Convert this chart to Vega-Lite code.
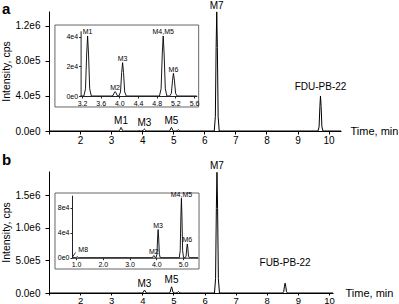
{
  "$schema": "https://vega.github.io/schema/vega-lite/v6.json",
  "padding": {"left": 1, "top": 0, "right": 0, "bottom": 0},
  "background": "white",
  "datasets": {
    "mainA": [
      {"t": 1.0, "v": 0}, {"t": 3.17, "v": 0},
      {"t": 3.24, "v": 0}, {"t": 3.275, "v": 4860}, {"t": 3.30, "v": 28350}, {"t": 3.32, "v": 40500}, {"t": 3.34, "v": 28350}, {"t": 3.365, "v": 4860}, {"t": 3.40, "v": 0},
      {"t": 3.83, "v": 0}, {"t": 3.865, "v": 360}, {"t": 3.89, "v": 2100}, {"t": 3.91, "v": 3000}, {"t": 3.93, "v": 2100}, {"t": 3.955, "v": 360}, {"t": 3.99, "v": 0},
      {"t": 4.025, "v": 2700}, {"t": 4.05, "v": 15750}, {"t": 4.07, "v": 22500}, {"t": 4.09, "v": 15750}, {"t": 4.115, "v": 2700}, {"t": 4.15, "v": 0},
      {"t": 4.86, "v": 0}, {"t": 4.895, "v": 4860}, {"t": 4.92, "v": 28350}, {"t": 4.94, "v": 40500}, {"t": 4.96, "v": 28350}, {"t": 4.985, "v": 4860}, {"t": 5.02, "v": 0},
      {"t": 5.08, "v": 0}, {"t": 5.115, "v": 1836}, {"t": 5.14, "v": 10710}, {"t": 5.16, "v": 15300}, {"t": 5.18, "v": 10710}, {"t": 5.205, "v": 1836}, {"t": 5.24, "v": 0},
      {"t": 5.66, "v": 0},
      {"t": 6.32, "v": 0}, {"t": 6.355, "v": 163200}, {"t": 6.38, "v": 952000}, {"t": 6.40, "v": 1360000}, {"t": 6.42, "v": 952000}, {"t": 6.445, "v": 163200}, {"t": 6.48, "v": 0},
      {"t": 9.66, "v": 0}, {"t": 9.695, "v": 48000}, {"t": 9.72, "v": 280000}, {"t": 9.74, "v": 400000}, {"t": 9.76, "v": 280000}, {"t": 9.785, "v": 48000}, {"t": 9.82, "v": 0},
      {"t": 10.4, "v": 0}
    ],
    "mainB": [
      {"t": 0.85, "v": 0},
      {"t": 0.97, "v": 0}, {"t": 1.005, "v": 180}, {"t": 1.03, "v": 1050}, {"t": 1.05, "v": 1500}, {"t": 1.07, "v": 1050}, {"t": 1.095, "v": 180}, {"t": 1.13, "v": 0},
      {"t": 3.83, "v": 0}, {"t": 3.865, "v": 420}, {"t": 3.89, "v": 2450}, {"t": 3.91, "v": 3500}, {"t": 3.93, "v": 2450}, {"t": 3.955, "v": 420}, {"t": 3.99, "v": 0},
      {"t": 4.025, "v": 5400}, {"t": 4.05, "v": 31500}, {"t": 4.07, "v": 45000}, {"t": 4.09, "v": 31500}, {"t": 4.115, "v": 5400}, {"t": 4.15, "v": 0},
      {"t": 4.86, "v": 0}, {"t": 4.895, "v": 11400}, {"t": 4.92, "v": 66500}, {"t": 4.94, "v": 95000}, {"t": 4.96, "v": 66500}, {"t": 4.985, "v": 11400}, {"t": 5.02, "v": 0},
      {"t": 5.08, "v": 0}, {"t": 5.115, "v": 2640}, {"t": 5.14, "v": 15400}, {"t": 5.16, "v": 22000}, {"t": 5.18, "v": 15400}, {"t": 5.205, "v": 2640}, {"t": 5.24, "v": 0},
      {"t": 5.56, "v": 0},
      {"t": 6.32, "v": 0}, {"t": 6.355, "v": 222000}, {"t": 6.38, "v": 1295000}, {"t": 6.40, "v": 1850000}, {"t": 6.42, "v": 1295000}, {"t": 6.445, "v": 222000}, {"t": 6.48, "v": 0},
      {"t": 8.51, "v": 0}, {"t": 8.545, "v": 18000}, {"t": 8.57, "v": 105000}, {"t": 8.59, "v": 150000}, {"t": 8.61, "v": 105000}, {"t": 8.635, "v": 18000}, {"t": 8.67, "v": 0},
      {"t": 10.13, "v": 0}
    ],
    "labMainA": [
      {"t": 3.32, "v": 40500, "label": "M1"},
      {"t": 4.07, "v": 22500, "label": "M3"},
      {"t": 4.94, "v": 40500, "label": "M5"},
      {"t": 6.40, "v": 1360000, "label": "M7"},
      {"t": 9.74, "v": 400000, "label": "FDU-PB-22"}
    ],
    "labInsetA": [
      {"t": 3.32, "v": 40500, "label": "M1"},
      {"t": 3.91, "v": 3000, "label": "M2"},
      {"t": 4.07, "v": 22500, "label": "M3"},
      {"t": 4.94, "v": 40500, "label": "M4,M5"},
      {"t": 5.16, "v": 15300, "label": "M6"}
    ],
    "labMainB": [
      {"t": 4.07, "v": 45000, "label": "M3"},
      {"t": 4.94, "v": 95000, "label": "M5"},
      {"t": 6.40, "v": 1850000, "label": "M7"},
      {"t": 8.59, "v": 150000, "label": "FUB-PB-22"}
    ],
    "labInsetB": [
      {"t": 1.05, "v": 1500, "label": "M8"},
      {"t": 3.91, "v": 3500, "label": "M2"},
      {"t": 4.07, "v": 45000, "label": "M3"},
      {"t": 4.94, "v": 95000, "label": "M4,M5"},
      {"t": 5.16, "v": 22000, "label": "M6"}
    ]
  },
  "bounds": "flush",
  "spacing": 40,
  "vconcat": [
    {
      "width": 292,
      "height": 120,
      "title": {"text": "a", "anchor": "start", "frame": "bounds", "fontSize": 15, "fontWeight": "bold", "color": "#000", "offset": 0, "dy": 16.5},
      "resolve": {"scale": {"x": "independent", "y": "independent"}, "axis": {"x": "independent", "y": "independent"}},
      "layer": [
        {
          "encoding": {
            "x": {"field": "t", "type": "quantitative", "scale": {"domain": [1.0, 10.4], "nice": false, "zero": false},
              "axis": {"values": [1, 2, 3, 4, 5, 6, 7, 8, 9, 10], "labelExpr": "datum.value < 1.5 ? '' : datum.label", "format": "d", "tickSize": 3, "labelPadding": 1, "labelFontSize": 10, "labelFlush": false, "labelOverlap": false,
                "title": "Time, min", "titleX": 301, "titleY": 0, "titleAlign": "left", "titleBaseline": "middle", "titleFontSize": 11, "titleAngle": 0}},
            "y": {"field": "v", "type": "quantitative", "scale": {"domain": [0, 1370000], "nice": false},
              "axis": {"values": [0, 400000, 800000, 1200000], "labelExpr": "replace(format(datum.value, '.1e'), '+', '')", "tickSize": 4, "labelPadding": 5, "labelFontSize": 10, "title": "Intensity, cps", "titleFontSize": 10.5, "titlePadding": 3}}
          },
          "layer": [
            {"data": {"name": "mainA"}, "mark": {"type": "line", "color": "#000", "strokeWidth": 1}},
            {"data": {"name": "labMainA"}, "transform": [{"filter": "datum.label != 'FDU-PB-22'"}], "mark": {"type": "text", "fontSize": 10, "baseline": "alphabetic", "dy": -3, "color": "#000"}, "encoding": {"text": {"field": "label"}}},
            {"data": {"name": "labMainA"}, "transform": [{"filter": "datum.label == 'FDU-PB-22'"}], "mark": {"type": "text", "fontSize": 10, "baseline": "alphabetic", "dy": -6, "color": "#000"}, "encoding": {"text": {"field": "label"}}}
          ]
        },
        {
          "layer": [
            {"data": {"values": [{}]}, "mark": {"type": "rect", "fill": "white", "stroke": "#666", "strokeWidth": 1},
              "encoding": {
                "x": {"datum": 2.62, "type": "quantitative", "scale": {"domain": [3.17, 5.66], "range": [31.6, 147.8], "nice": false, "zero": false},
                  "axis": {"orient": "bottom", "offset": -35, "zindex": 1, "values": [3.2, 3.6, 4.0, 4.4, 4.8, 5.2, 5.6], "format": ".1f", "tickSize": 2, "labelPadding": 1, "labelFontSize": 7, "labelFlush": false, "labelOverlap": false, "title": null, "domainColor": "#222", "tickColor": "#222"}},
                "x2": {"datum": 5.70},
                "y": {"datum": 47900, "type": "quantitative", "scale": {"domain": [0, 44000], "range": [85, 19.8], "nice": false},
                  "axis": {"orient": "left", "offset": -31.6, "zindex": 1, "values": [0, 20000, 40000], "labelExpr": "replace(format(datum.value, '.0e'), '+', '')", "tickSize": 2, "labelPadding": 1, "labelFontSize": 7, "labelFlush": false, "title": null, "domainColor": "#222", "tickColor": "#222"}},
                "y2": {"datum": -7420}
              }},
            {"data": {"name": "mainA"}, "transform": [{"filter": {"field": "t", "range": [3.17, 5.66]}}], "mark": {"type": "line", "color": "#000", "strokeWidth": 0.9},
              "encoding": {
                "x": {"field": "t", "type": "quantitative", "scale": {"domain": [3.17, 5.66], "range": [31.6, 147.8], "nice": false, "zero": false},
                  "axis": {"orient": "bottom", "offset": -35, "zindex": 1, "values": [3.2, 3.6, 4.0, 4.4, 4.8, 5.2, 5.6], "format": ".1f", "tickSize": 2, "labelPadding": 1, "labelFontSize": 7, "labelFlush": false, "labelOverlap": false, "title": null, "domainColor": "#222", "tickColor": "#222"}},
                "y": {"field": "v", "type": "quantitative", "scale": {"domain": [0, 44000], "range": [85, 19.8], "nice": false},
                  "axis": {"orient": "left", "offset": -31.6, "zindex": 1, "values": [0, 20000, 40000], "labelExpr": "replace(format(datum.value, '.0e'), '+', '')", "tickSize": 2, "labelPadding": 1, "labelFontSize": 7, "labelFlush": false, "title": null, "domainColor": "#222", "tickColor": "#222"}}
              }},
            {"data": {"name": "labInsetA"}, "mark": {"type": "text", "fontSize": 7, "baseline": "alphabetic", "dy": -1.5, "color": "#000"},
              "encoding": {
                "x": {"field": "t", "type": "quantitative", "scale": {"domain": [3.17, 5.66], "range": [31.6, 147.8], "nice": false, "zero": false},
                  "axis": {"orient": "bottom", "offset": -35, "zindex": 1, "values": [3.2, 3.6, 4.0, 4.4, 4.8, 5.2, 5.6], "format": ".1f", "tickSize": 2, "labelPadding": 1, "labelFontSize": 7, "labelFlush": false, "labelOverlap": false, "title": null, "domainColor": "#222", "tickColor": "#222"}},
                "y": {"field": "v", "type": "quantitative", "scale": {"domain": [0, 44000], "range": [85, 19.8], "nice": false},
                  "axis": {"orient": "left", "offset": -31.6, "zindex": 1, "values": [0, 20000, 40000], "labelExpr": "replace(format(datum.value, '.0e'), '+', '')", "tickSize": 2, "labelPadding": 1, "labelFontSize": 7, "labelFlush": false, "title": null, "domainColor": "#222", "tickColor": "#222"}},
                "text": {"field": "label"}
              }}
          ]
        }
      ]
    },
    {
      "width": 284,
      "height": 122,
      "title": {"text": "b", "anchor": "start", "frame": "bounds", "fontSize": 15, "fontWeight": "bold", "color": "#000", "offset": 0, "dy": 7.4},
      "resolve": {"scale": {"x": "independent", "y": "independent"}, "axis": {"x": "independent", "y": "independent"}},
      "layer": [
        {
          "encoding": {
            "x": {"field": "t", "type": "quantitative", "scale": {"domain": [1.0, 10.13], "nice": false, "zero": false},
              "axis": {"values": [1, 2, 3, 4, 5, 6, 7, 8, 9, 10], "labelExpr": "datum.value < 1.5 ? '' : datum.label", "format": "d", "tickSize": 2, "labelPadding": 0, "labelFontSize": 9.5, "labelFlush": false, "labelOverlap": false,
                "title": "Time, min", "titleX": 296, "titleY": 0, "titleAlign": "left", "titleBaseline": "middle", "titleFontSize": 11, "titleAngle": 0}},
            "y": {"field": "v", "type": "quantitative", "scale": {"domain": [0, 1870000], "nice": false},
              "axis": {"values": [0, 500000, 1000000, 1500000], "labelExpr": "replace(format(datum.value, '.1e'), '+', '')", "tickSize": 4, "labelPadding": 5, "labelFontSize": 10, "title": "Intensity, cps", "titleFontSize": 10.5, "titlePadding": 3}}
          },
          "layer": [
            {"data": {"name": "mainB"}, "transform": [{"filter": "datum.t >= 1"}], "mark": {"type": "line", "color": "#000", "strokeWidth": 1}},
            {"data": {"name": "labMainB"}, "transform": [{"filter": "datum.label != 'FUB-PB-22'"}], "mark": {"type": "text", "fontSize": 10, "baseline": "alphabetic", "dy": -3.5, "color": "#000"}, "encoding": {"text": {"field": "label"}}},
            {"data": {"name": "labMainB"}, "transform": [{"filter": "datum.label == 'FUB-PB-22'"}], "mark": {"type": "text", "fontSize": 10, "baseline": "alphabetic", "dy": -17, "color": "#000"}, "encoding": {"text": {"field": "label"}}}
          ]
        },
        {
          "layer": [
            {"data": {"values": [{}]}, "mark": {"type": "rect", "fill": "white", "stroke": "#666", "strokeWidth": 1},
              "encoding": {
                "x": {"datum": 0.214, "type": "quantitative", "scale": {"domain": [0.85, 5.56], "range": [23, 149], "nice": false, "zero": false},
                  "axis": {"orient": "bottom", "offset": -35.3, "zindex": 1, "values": [1, 2, 3, 4, 5], "format": ".1f", "tickSize": 2, "labelPadding": 1, "labelFontSize": 7, "labelFlush": false, "labelOverlap": false, "title": null, "domainColor": "#222", "tickColor": "#222"}},
                "x2": {"datum": 5.598},
                "y": {"datum": 103500, "type": "quantitative", "scale": {"domain": [0, 100000], "range": [86.7, 24.2], "nice": false},
                  "axis": {"orient": "left", "offset": -23, "zindex": 1, "values": [0, 40000, 80000], "labelExpr": "replace(format(datum.value, '.0e'), '+', '')", "tickSize": 2, "labelPadding": 1, "labelFontSize": 7, "labelFlush": false, "title": null, "domainColor": "#222", "tickColor": "#222"}},
                "y2": {"datum": -18080}
              }},
            {"data": {"name": "mainB"}, "transform": [{"filter": {"field": "t", "range": [0.85, 5.56]}}], "mark": {"type": "line", "color": "#000", "strokeWidth": 0.9},
              "encoding": {
                "x": {"field": "t", "type": "quantitative", "scale": {"domain": [0.85, 5.56], "range": [23, 149], "nice": false, "zero": false},
                  "axis": {"orient": "bottom", "offset": -35.3, "zindex": 1, "values": [1, 2, 3, 4, 5], "format": ".1f", "tickSize": 2, "labelPadding": 1, "labelFontSize": 7, "labelFlush": false, "labelOverlap": false, "title": null, "domainColor": "#222", "tickColor": "#222"}},
                "y": {"field": "v", "type": "quantitative", "scale": {"domain": [0, 100000], "range": [86.7, 24.2], "nice": false},
                  "axis": {"orient": "left", "offset": -23, "zindex": 1, "values": [0, 40000, 80000], "labelExpr": "replace(format(datum.value, '.0e'), '+', '')", "tickSize": 2, "labelPadding": 1, "labelFontSize": 7, "labelFlush": false, "title": null, "domainColor": "#222", "tickColor": "#222"}}
              }},
            {"data": {"values": [{}]}, "mark": {"type": "rule", "color": "#000", "strokeWidth": 0.8},
              "encoding": {
                "x": {"datum": 0.87, "type": "quantitative", "scale": {"domain": [0.85, 5.56], "range": [23, 149], "nice": false, "zero": false},
                  "axis": {"orient": "bottom", "offset": -35.3, "zindex": 1, "values": [1, 2, 3, 4, 5], "format": ".1f", "tickSize": 2, "labelPadding": 1, "labelFontSize": 7, "labelFlush": false, "labelOverlap": false, "title": null, "domainColor": "#222", "tickColor": "#222"}},
                "x2": {"datum": 0.98},
                "y": {"datum": 1000, "type": "quantitative", "scale": {"domain": [0, 100000], "range": [86.7, 24.2], "nice": false},
                  "axis": {"orient": "left", "offset": -23, "zindex": 1, "values": [0, 40000, 80000], "labelExpr": "replace(format(datum.value, '.0e'), '+', '')", "tickSize": 2, "labelPadding": 1, "labelFontSize": 7, "labelFlush": false, "title": null, "domainColor": "#222", "tickColor": "#222"}},
                "y2": {"datum": 8300}
              }},
            {"data": {"name": "labInsetB"}, "transform": [{"filter": "datum.label != 'M8'"}], "mark": {"type": "text", "fontSize": 7, "baseline": "alphabetic", "dy": -1.5, "color": "#000"},
              "encoding": {
                "x": {"field": "t", "type": "quantitative", "scale": {"domain": [0.85, 5.56], "range": [23, 149], "nice": false, "zero": false},
                  "axis": {"orient": "bottom", "offset": -35.3, "zindex": 1, "values": [1, 2, 3, 4, 5], "format": ".1f", "tickSize": 2, "labelPadding": 1, "labelFontSize": 7, "labelFlush": false, "labelOverlap": false, "title": null, "domainColor": "#222", "tickColor": "#222"}},
                "y": {"field": "v", "type": "quantitative", "scale": {"domain": [0, 100000], "range": [86.7, 24.2], "nice": false},
                  "axis": {"orient": "left", "offset": -23, "zindex": 1, "values": [0, 40000, 80000], "labelExpr": "replace(format(datum.value, '.0e'), '+', '')", "tickSize": 2, "labelPadding": 1, "labelFontSize": 7, "labelFlush": false, "title": null, "domainColor": "#222", "tickColor": "#222"}},
                "text": {"field": "label"}
              }},
            {"data": {"name": "labInsetB"}, "transform": [{"filter": "datum.label == 'M8'"}], "mark": {"type": "text", "fontSize": 7, "baseline": "alphabetic", "align": "left", "dx": 1, "dy": -5, "color": "#000"},
              "encoding": {
                "x": {"field": "t", "type": "quantitative", "scale": {"domain": [0.85, 5.56], "range": [23, 149], "nice": false, "zero": false},
                  "axis": {"orient": "bottom", "offset": -35.3, "zindex": 1, "values": [1, 2, 3, 4, 5], "format": ".1f", "tickSize": 2, "labelPadding": 1, "labelFontSize": 7, "labelFlush": false, "labelOverlap": false, "title": null, "domainColor": "#222", "tickColor": "#222"}},
                "y": {"field": "v", "type": "quantitative", "scale": {"domain": [0, 100000], "range": [86.7, 24.2], "nice": false},
                  "axis": {"orient": "left", "offset": -23, "zindex": 1, "values": [0, 40000, 80000], "labelExpr": "replace(format(datum.value, '.0e'), '+', '')", "tickSize": 2, "labelPadding": 1, "labelFontSize": 7, "labelFlush": false, "title": null, "domainColor": "#222", "tickColor": "#222"}},
                "text": {"field": "label"}
              }}
          ]
        }
      ]
    }
  ],
  "config": {
    "view": {"stroke": null},
    "font": "Liberation Sans",
    "axis": {"grid": false, "domainColor": "#000", "tickColor": "#000", "labelColor": "#000", "titleColor": "#000", "titleFontWeight": "normal", "labelFont": "Liberation Sans", "titleFont": "Liberation Sans"},
    "title": {"font": "Liberation Sans"}
  }
}
